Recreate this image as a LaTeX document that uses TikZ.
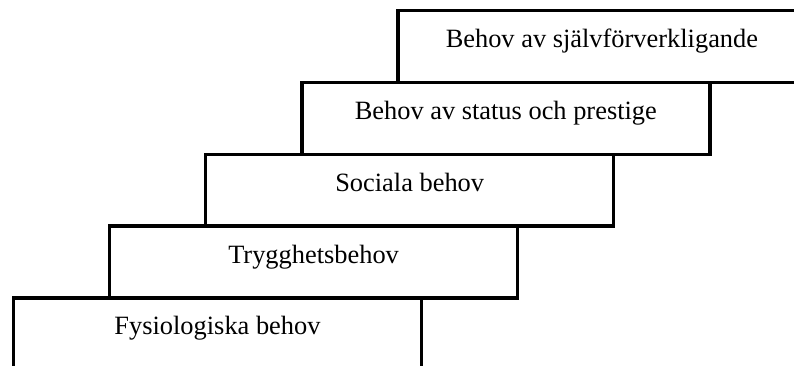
\documentclass[tikz,border=0pt]{standalone}
\usepackage{fontspec}
\setmainfont{Liberation Serif}
\begin{document}
\begin{tikzpicture}[x=1pt,y=1pt,
  stepbox/.style={draw=black, line width=3.5pt, rectangle, outer sep=0pt, inner sep=0pt,
    minimum width=408pt, minimum height=71.9pt, anchor=north west},
  lbl/.style={anchor=base, inner sep=0pt, font=\fontsize{26.4}{30}\selectfont}]
\useasboundingbox (0,0) rectangle (794,365);
\node[stepbox] (b5) at (13.5,66.9) {};
\node[stepbox] (b4) at (109.6,138.8) {};
\node[stepbox] (b3) at (205.7,210.7) {};
\node[stepbox] (b2) at (301.8,282.6) {};
\node[stepbox] (b1) at (397.9,354.5) {};
\node[lbl] (t5) at ([yshift=-36.8pt]b5.north) {Fysiologiska behov};
\node[lbl] (t4) at ([yshift=-36.8pt]b4.north) {Trygghetsbehov};
\node[lbl] (t3) at ([yshift=-36.8pt]b3.north) {Sociala behov};
\node[lbl] (t2) at ([yshift=-36.8pt]b2.north) {Behov av status och prestige};
\node[lbl] (t1) at ([yshift=-36.8pt]b1.north) {Behov av självförverkligande};
\end{tikzpicture}
\end{document}
